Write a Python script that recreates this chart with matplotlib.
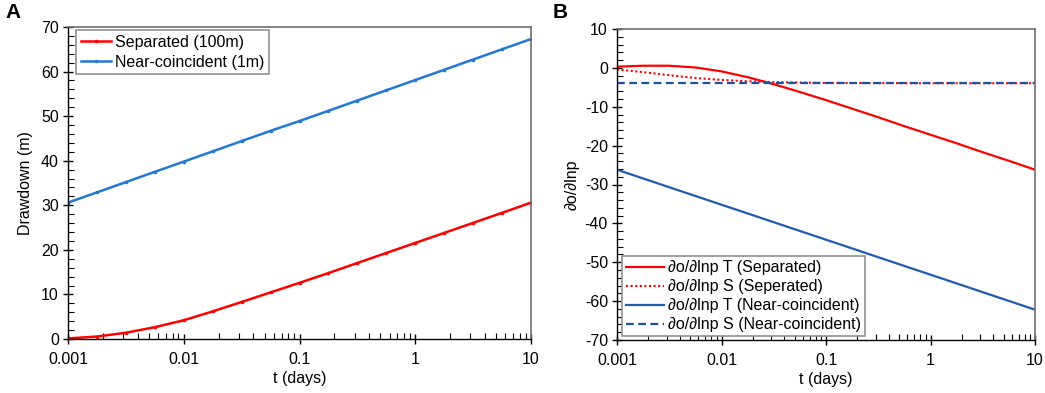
import matplotlib
matplotlib.use("Agg")
import matplotlib.pyplot as plt
from matplotlib.ticker import LogLocator, FixedLocator, MultipleLocator, NullFormatter, FixedFormatter

plt.rcParams['font.family'] = ['Liberation Sans', 'DejaVu Sans']
plt.rcParams['axes.unicode_minus'] = False

# time points (days), quarter-decade spacing
t = [0.001, 0.00178, 0.00316, 0.00562, 0.01, 0.0178, 0.0316, 0.0562,
     0.1, 0.178, 0.316, 0.562, 1.0, 1.78, 3.16, 5.62, 10.0]

# Panel A: drawdown (m)
drawdown_separated = [0.13, 0.55, 1.4, 2.65, 4.2, 6.2, 8.3, 10.45,
                      12.6, 14.8, 17.05, 19.3, 21.55, 23.8, 26.05, 28.3, 30.6]
drawdown_near = [30.6, 32.9, 35.2, 37.5, 39.8, 42.1, 44.4, 46.7,
                 48.9, 51.2, 53.5, 55.8, 58.1, 60.4, 62.7, 65.0, 67.3]

# Panel B: sensitivities
sens_T_separated = [0.3, 0.55, 0.55, 0.1, -0.9, -2.4, -4.2, -6.2,
                    -8.3, -10.5, -12.7, -15.0, -17.2, -19.4, -21.7, -23.9, -26.2]
sens_S_separated = [-0.4, -1.1, -1.9, -2.6, -3.1, -3.45, -3.65, -3.78,
                    -3.85, -3.9, -3.93, -3.95, -3.96, -3.96, -3.96, -3.96, -3.96]
sens_T_near = [-26.2, -28.45, -30.7, -32.95, -35.2, -37.45, -39.7, -41.95,
               -44.2, -46.45, -48.7, -50.95, -53.2, -55.45, -57.7, -59.95, -62.2]
sens_S_near = [-3.96] * 17

x_ticks = [0.001, 0.01, 0.1, 1, 10]
x_tick_labels = ["0.001", "0.01", "0.1", "1", "10"]

W, H = 1045, 393
fig = plt.figure(figsize=(W / 100, H / 100), dpi=100)

axA = fig.add_axes([68 / W, 1 - 339 / H, (531 - 68) / W, (339 - 27) / H])
axB = fig.add_axes([617 / W, 1 - 340 / H, (1035 - 617) / W, (340 - 29) / H])

red = "#FF0000"
blueA = "#2179D3"
blueB = "#1F5BAE"
blueBd = "#1F4F9F"
fs = 11.5


def style(ax):
    ax.set_xscale('log')
    ax.set_xlim(0.001, 10)
    ax.xaxis.set_major_locator(FixedLocator(x_ticks))
    ax.xaxis.set_major_formatter(FixedFormatter(x_tick_labels))
    ax.xaxis.set_minor_locator(LogLocator(base=10, subs=range(2, 10), numticks=20))
    ax.xaxis.set_minor_formatter(NullFormatter())
    ax.yaxis.set_minor_locator(MultipleLocator(2))
    ax.tick_params(which='major', direction='inout', length=7, width=1,
                   labelsize=fs, colors='black', pad=3)
    ax.tick_params(which='minor', direction='in', length=4, width=0.8)
    ax.tick_params(axis='x', which='major', pad=6)
    for s in ['left', 'bottom']:
        ax.spines[s].set_color('black')
        ax.spines[s].set_linewidth(1.0)
    for s in ['top', 'right']:
        ax.spines[s].set_color('#707070')
        ax.spines[s].set_linewidth(1.2)
    ax.set_xlabel("t (days)", fontsize=fs, labelpad=3)


# Panel A
axA.plot(t, drawdown_separated, color=red, lw=1.8, marker='o', ms=1.6,
         label="Separated (100m)")
axA.plot(t, drawdown_near, color=blueA, lw=1.8, marker='o', ms=1.6,
         label="Near-coincident (1m)")
axA.set_ylim(0, 70)
axA.yaxis.set_major_locator(MultipleLocator(10))
style(axA)
axA.set_ylabel("Drawdown (m)", fontsize=fs, labelpad=6)
legA = axA.legend(loc='upper left', bbox_to_anchor=(0.018, 0.99), fontsize=fs,
                  frameon=True, fancybox=False, edgecolor='#909090',
                  framealpha=1, handlelength=1.9, handletextpad=0.2,
                  borderpad=0.3, labelspacing=0.3, borderaxespad=0.0)
legA.get_frame().set_linewidth(1.2)

# Panel B
axB.plot(t, sens_T_separated, color=red, lw=1.6, label="∂o/∂lnp T (Separated)")
axB.plot(t, sens_S_separated, color=red, lw=1.5, ls=(0, (1, 1.2)),
         label="∂o/∂lnp S (Seperated)")
axB.plot(t, sens_T_near, color=blueB, lw=1.6, label="∂o/∂lnp T (Near-coincident)")
axB.plot(t, sens_S_near, color=blueBd, lw=1.6, ls=(0, (3.5, 2)),
         label="∂o/∂lnp S (Near-coincident)")
axB.set_ylim(-70, 10)
axB.yaxis.set_major_locator(MultipleLocator(10))
style(axB)
axB.set_ylabel("∂o/∂lnp", fontsize=fs, labelpad=4)
legB = axB.legend(loc='lower left', bbox_to_anchor=(0.012, 0.012), fontsize=fs,
                  frameon=True, fancybox=False, edgecolor='#909090',
                  framealpha=1, handlelength=2.4, handletextpad=0.2,
                  borderpad=0.25, labelspacing=0.25, borderaxespad=0.0)
legB.get_frame().set_linewidth(1.2)

fig.text(5 / W, 1 - 12 / H, "A", fontsize=15, fontweight='bold', va='center', ha='left')
fig.text(553 / W, 1 - 12 / H, "B", fontsize=15, fontweight='bold', va='center', ha='left')

fig.savefig("out.png", dpi=100)
